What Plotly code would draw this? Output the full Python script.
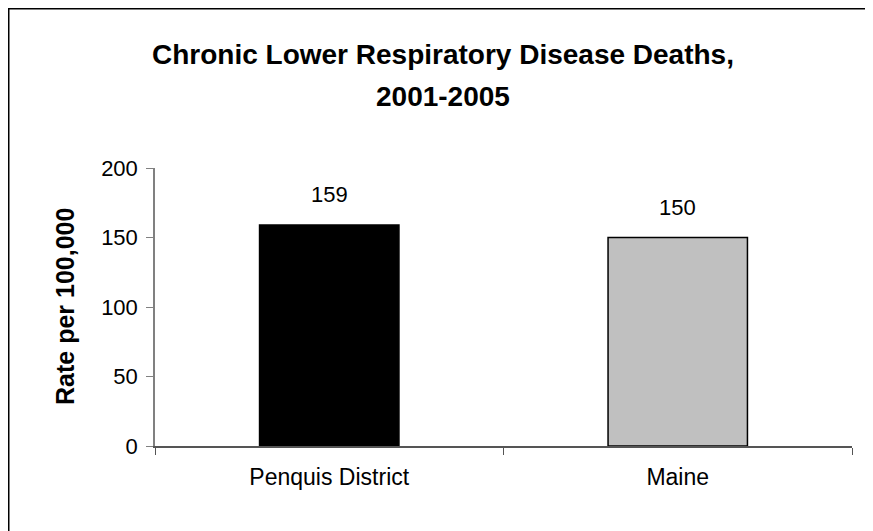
import plotly.graph_objects as go

categories = ["Penquis District", "Maine"]
values = [159, 150]
bar_colors = ["#000000", "#C0C0C0"]
y_tickvals = [0, 50, 100, 150, 200]
title_lines = ["Chronic Lower Respiratory Disease Deaths,", "2001-2005"]
y_title = "Rate per 100,000"

# page has an 8px body margin; work in figure coordinates
W, H = 873, 531
L, T = 147, 160
pw, ph = 697, 278
R, B = W - L - pw, H - T - ph

def px_x(x):
    return (x - L) / pw

def px_y(y):
    return (T + ph - y) / ph

FONT = "Liberation Sans, Arial, sans-serif"

fig = go.Figure(go.Bar(
    x=categories, y=values, width=0.4,
    marker=dict(color=bar_colors, line=dict(color="#000000", width=1.5)),
    hoverinfo="skip",
))

annotations = []
for c, v in zip(categories, values):
    annotations.append(dict(x=c, y=v, xref="x", yref="y", text=str(v), showarrow=False,
                            yshift=30, font=dict(family=FONT, size=22, color="#000")))
annotations.append(dict(x=px_x(435), y=px_y(46), xref="paper", yref="paper", text=f"<b>{title_lines[0]}</b>",
                        showarrow=False, xanchor="center", yanchor="middle",
                        font=dict(family=FONT, size=28, color="#000")))
annotations.append(dict(x=px_x(435), y=px_y(88), xref="paper", yref="paper", text=f"<b>{title_lines[1]}</b>",
                        showarrow=False, xanchor="center", yanchor="middle",
                        font=dict(family=FONT, size=28, color="#000")))
annotations.append(dict(x=px_x(57), y=0.5, xref="paper", yref="paper", text=f"<b>{y_title}</b>",
                        showarrow=False, textangle=-90, xanchor="center", yanchor="middle",
                        font=dict(family=FONT, size=25, color="#000")))

shapes = [
    dict(type="line", xref="paper", yref="paper", x0=px_x(0.5), x1=px_x(0.5), y0=px_y(540), y1=px_y(0),
         line=dict(color="#000", width=2)),
    dict(type="line", xref="paper", yref="paper", x0=px_x(0), x1=px_x(861), y0=px_y(0.5), y1=px_y(0.5),
         line=dict(color="#000", width=2)),
    dict(type="line", xref="paper", yref="paper", x0=px_x(861), x1=px_x(861), y0=px_y(540), y1=px_y(0),
         line=dict(color="#000", width=2)),
]

fig.update_layout(
    width=W, height=H,
    margin=dict(l=L, r=R, t=T, b=B, pad=0),
    paper_bgcolor="#FFFFFF", plot_bgcolor="#FFFFFF",
    showlegend=False,
    annotations=annotations,
    shapes=shapes,
    font=dict(family=FONT, color="#000"),
)
fig.update_xaxes(
    type="category", range=[-0.5, 1.5], showline=True, linecolor="#555555", linewidth=1.5,
    ticks="outside", tickson="boundaries", ticklen=7, tickcolor="#555555", tickwidth=1,
    ticklabelstandoff=10,
    showgrid=False, zeroline=False, tickfont=dict(family=FONT, size=23, color="#000"),
)
fig.update_yaxes(
    range=[0, 200], tickvals=y_tickvals, showline=True, linecolor="#808080", linewidth=1.5,
    ticks="outside", ticklen=7, tickcolor="#808080", tickwidth=1,
    ticklabelstandoff=4,
    showgrid=False, zeroline=False, tickfont=dict(family=FONT, size=22, color="#000"),
)

fig.write_html("out.html")
